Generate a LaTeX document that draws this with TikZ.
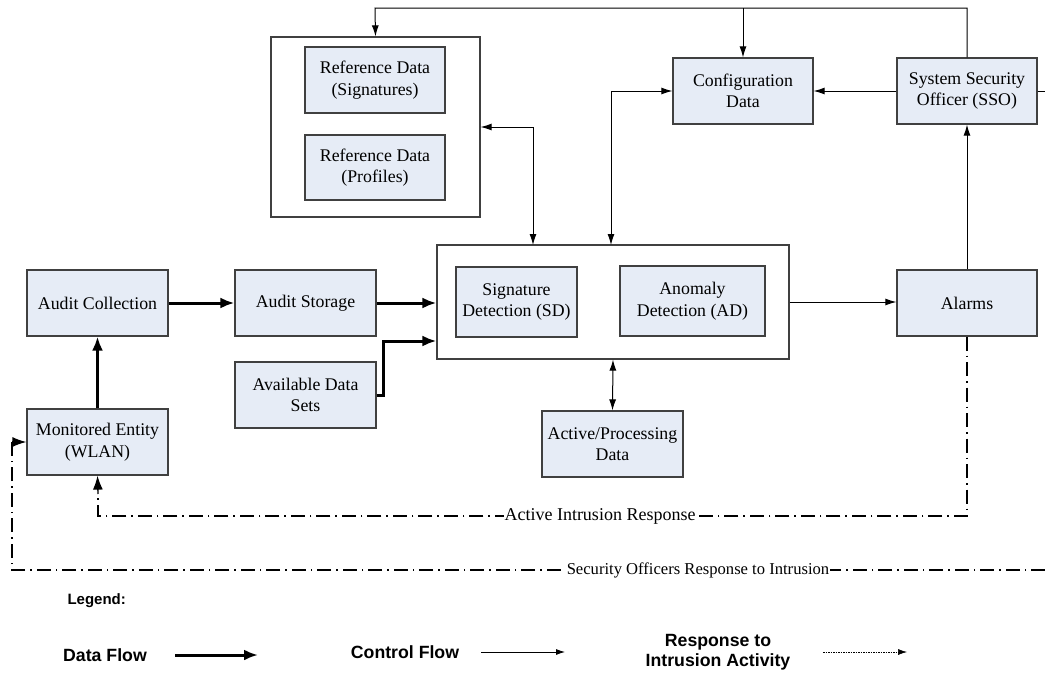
\documentclass[tikz,border=0pt]{standalone}
\usepackage{fontspec}
\setmainfont{Liberation Serif}
\newfontfamily\legendfont{Liberation Sans}
\usetikzlibrary{arrows.meta,calc}
\definecolor{boxfill}{RGB}{230,236,246}
\definecolor{boxline}{RGB}{64,64,64}
\tikzset{
  blk/.style={draw=boxline,fill=boxfill,line width=1.2pt,align=center,inner sep=2pt,font=\fontsize{17.8}{21.5}\selectfont},
  grp/.style={draw=boxline,line width=1.2pt,fill=white},
  ctrl/.style={line width=1pt,-{Latex[length=11pt,width=7pt]}},
  ctrlb/.style={line width=1pt,{Latex[length=11pt,width=7pt]}-{Latex[length=11pt,width=7pt]}},
  data/.style={line width=3pt,-{Latex[length=14pt,width=11pt]}},
  resp/.style={line width=1.2pt,dash pattern=on 14pt off 5pt on 1.5pt off 5pt},
  resptip/.style={line width=1.3pt,solid,-{Latex[length=14pt,width=10pt]}},
  lbl/.style={fill=white,inner sep=1pt},
  leg/.style={font=\legendfont\bfseries\fontsize{17.7}{20}\selectfont,align=center}
}
\begin{document}
\begin{tikzpicture}[x=1pt,y=-1pt]
\useasboundingbox (0,0) rectangle (1045,675);
% group boxes
\node[grp,minimum width=209pt,minimum height=180pt] (RefBox) at (375.5,127) {};
\node[grp,minimum width=352pt,minimum height=114pt] (DetBox) at (613,302) {};
% blocks
\node[blk,minimum width=140pt,minimum height=66pt] (RefSig) at (375,80) {Reference Data\\(Signatures)};
\node[blk,minimum width=140pt,minimum height=65pt] (RefProf) at (375,167.5) {Reference Data\\(Profiles)};
\node[blk,minimum width=140pt,minimum height=66pt] (Config) at (743,91) {Configuration\\Data};
\node[blk,minimum width=140pt,minimum height=66pt] (SSO) at (967,91) {System Security\\Officer (SSO)};
\node[blk,minimum width=141pt,minimum height=66pt] (AuditC) at (97.5,303) {Audit Collection};
\node[blk,minimum width=141pt,minimum height=66pt] (AuditS) at (305.5,303) {Audit Storage};
\node[blk,minimum width=141pt,minimum height=66pt] (Avail) at (305.5,395) {Available Data\\Sets};
\node[blk,minimum width=141pt,minimum height=66pt] (Monitored) at (97.5,442) {Monitored Entity\\(WLAN)};
\node[blk,minimum width=121pt,minimum height=70pt] (SD) at (516.5,302) {Signature\\Detection (SD)};
\node[blk,minimum width=145pt,minimum height=70pt] (AD) at (692.5,301) {Anomaly\\Detection (AD)};
\node[blk,minimum width=141pt,minimum height=66pt] (APD) at (612.5,444) {Active/Processing\\Data};
\node[blk,minimum width=140pt,minimum height=66pt] (Alarms) at (967,303) {Alarms};
% coordinates
\coordinate (topL) at (375,8);
\coordinate (redge) at (1045,91);
\coordinate (detN1) at (533,245);
\coordinate (detN2) at (611,245);
\coordinate (aiL) at (98,516);
\coordinate (aiT) at (98,494);
\coordinate (sR) at (1045,570);
\coordinate (sL) at (12,570);
\coordinate (sT) at (12,442);
% control flows
\draw[ctrl] (SSO.north) |- (topL) -- (RefBox.north);
\draw[ctrl] (Config.north |- topL) -- (Config.north);
\draw[ctrl] (SSO.west) -- (Config.east);
\draw[line width=1pt] (SSO.east) -- (redge);
\draw[ctrlb] (Config.west) -| (detN2);
\draw[ctrlb] (RefBox.east |- 0,127) -| (detN1);
\draw[ctrl] (DetBox.east) -- (Alarms.west |- DetBox.east);
\draw[ctrl] (Alarms.north) -- (SSO.south);
\draw[ctrlb] (DetBox.south) -- (APD.north);
% data flows
\draw[data] (AuditC.east) -- (AuditS.west);
\draw[data] (AuditS.east) -- (DetBox.west |- AuditS.east);
\draw[data] (Avail.east) -- ++(7,0) |- (DetBox.west |- 0,341);
\draw[data] (Monitored.north) -- (AuditC.south);
% responses
\draw[resp] (Alarms.south) |- (aiL) -- (aiT);
\draw[resptip] (aiT) -- (Monitored.south);
\node[lbl,font=\fontsize{18}{21}\selectfont] (lblA) at (600,516) {Active Intrusion Response};
\draw[resp] (sR) -- (sL) -- (sT);
\draw[resptip] (sT) -- (Monitored.west);
\node[lbl,font=\fontsize{16.6}{20}\selectfont] (lblS) at (698,570) {Security Officers Response to Intrusion};
% legend
\node[leg,anchor=west,font=\legendfont\bfseries\fontsize{15}{18}\selectfont] (legT) at (64,601) {Legend:};
\node[leg] (legD) at (105,655) {Data Flow};
\coordinate (dA) at (175,655); \coordinate (dB) at (258,655);
\draw[data] (dA) -- (dB);
\node[leg] (legC) at (405,652) {Control Flow};
\coordinate (cA) at (481,652); \coordinate (cB) at (565,652);
\draw[line width=0.8pt,-{Latex[length=9pt,width=6pt]}] (cA) -- (cB);
\node[leg] (legR) at (718,652) {Response to\\Intrusion Activity};
\coordinate (rA) at (823,652); \coordinate (rB) at (907,652);
\draw[line width=0.6pt,dash pattern=on 1.5pt off 1pt,-{Latex[length=9pt,width=6pt]}] (rA) -- (rB);
\end{tikzpicture}
\end{document}
